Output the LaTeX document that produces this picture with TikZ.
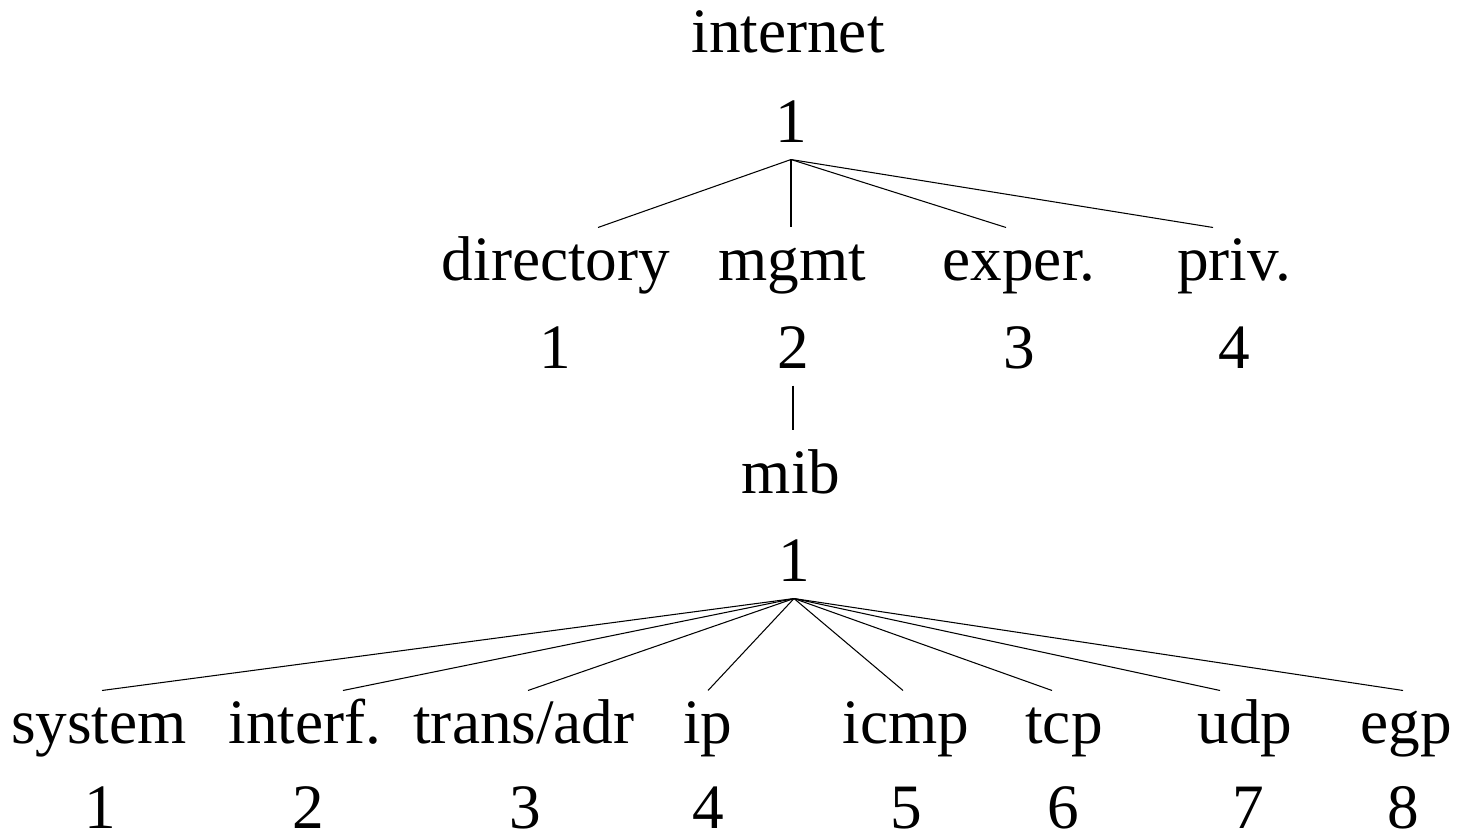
\documentclass[tikz,border=0pt]{standalone}
\usepackage{fontspec}
\setmainfont{Liberation Serif}

\begin{document}
\begin{tikzpicture}[
    font=\fontsize{36}{43}\selectfont,
    label/.style={anchor=base, inner xsep=0pt, inner ysep=0.14cm, text height=0.9cm, text depth=0.3cm},
    num/.style={anchor=base, inner xsep=0pt, inner ysep=0.34cm, text height=0.9cm, text depth=0pt},
    leafnum/.style={anchor=base, inner sep=0pt},
    line width=0.6pt
  ]
    \useasboundingbox (0,0) rectangle (0.02* 1464, -0.02* 837);

    % Nodes
    \node[label] at (0.02* 788, -0.02* 53)  (internet)  {internet};
    \node[num]   at (0.02* 791, -0.02* 142) (inetnum)   {1};

    \node[label] at (0.02* 556, -0.02* 280)  (directory) {directory};
    \node[num]   at (0.02* 555, -0.02* 368)  (dirnum)    {1};
    \node[label] at (0.02* 792, -0.02* 280)  (mgmt)      {mgmt};
    \node[num]   at (0.02* 793, -0.02* 368)  (mgmtnum)   {2};
    \node[label] at (0.02* 1019, -0.02* 280) (exper)     {exper.};
    \node[num]   at (0.02* 1019, -0.02* 368) (expernum)  {3};
    \node[label] at (0.02* 1234, -0.02* 280) (priv)      {priv.};
    \node[num]   at (0.02* 1234, -0.02* 368) (privnum)   {4};

    \node[label] at (0.02* 791, -0.02* 493) (mib)       {mib};
    \node[num]   at (0.02* 794, -0.02* 581) (mibnum)    {1};

    \node[label]   at (0.02* 99, -0.02* 743)   (system)    {system};
    \node[leafnum] at (0.02* 100, -0.02* 828)  (sysnum)    {1};
    \node[label]   at (0.02* 305, -0.02* 743)  (interf)    {interf.};
    \node[leafnum] at (0.02* 308, -0.02* 828)  (interfnum) {2};
    \node[label]   at (0.02* 524, -0.02* 743)  (trans)     {trans/adr};
    \node[leafnum] at (0.02* 525, -0.02* 828)  (transnum)  {3};
    \node[label]   at (0.02* 708, -0.02* 743)  (ip)        {ip};
    \node[leafnum] at (0.02* 708, -0.02* 828)  (ipnum)     {4};
    \node[label]   at (0.02* 906, -0.02* 743)  (icmp)      {icmp};
    \node[leafnum] at (0.02* 906, -0.02* 828)  (icmpnum)   {5};
    \node[label]   at (0.02* 1064, -0.02* 743) (tcp)       {tcp};
    \node[leafnum] at (0.02* 1063, -0.02* 828) (tcpnum)    {6};
    \node[label]   at (0.02* 1245, -0.02* 743) (udp)       {udp};
    \node[leafnum] at (0.02* 1248, -0.02* 828) (udpnum)    {7};
    \node[label]   at (0.02* 1406, -0.02* 743) (egp)       {egp};
    \node[leafnum] at (0.02* 1403, -0.02* 828) (egpnum)    {8};

    % Edges
    \draw (inetnum.south) -- ([xshift=0.84cm]directory.north);
    \draw (inetnum.south) -- (inetnum.south |- mgmt.north);
    \draw (inetnum.south) -- ([xshift=-0.26cm]exper.north);
    \draw (inetnum.south) -- ([xshift=-0.42cm]priv.north);

    \draw (mgmtnum.south) -- ([yshift=0.2cm]mgmtnum.south |- mib.north);

    \draw (mibnum.south) -- ([xshift=0.06cm]system.north);
    \draw (mibnum.south) -- ([xshift=0.76cm]interf.north);
    \draw (mibnum.south) -- ([xshift=0.08cm]trans.north);
    \draw (mibnum.south) -- (ip.north);
    \draw (mibnum.south) -- ([xshift=-0.06cm]icmp.north);
    \draw (mibnum.south) -- ([xshift=-0.24cm]tcp.north);
    \draw (mibnum.south) -- ([xshift=-0.5cm]udp.north);
    \draw (mibnum.south) -- ([xshift=-0.06cm]egp.north);
  \end{tikzpicture}
\end{document}
